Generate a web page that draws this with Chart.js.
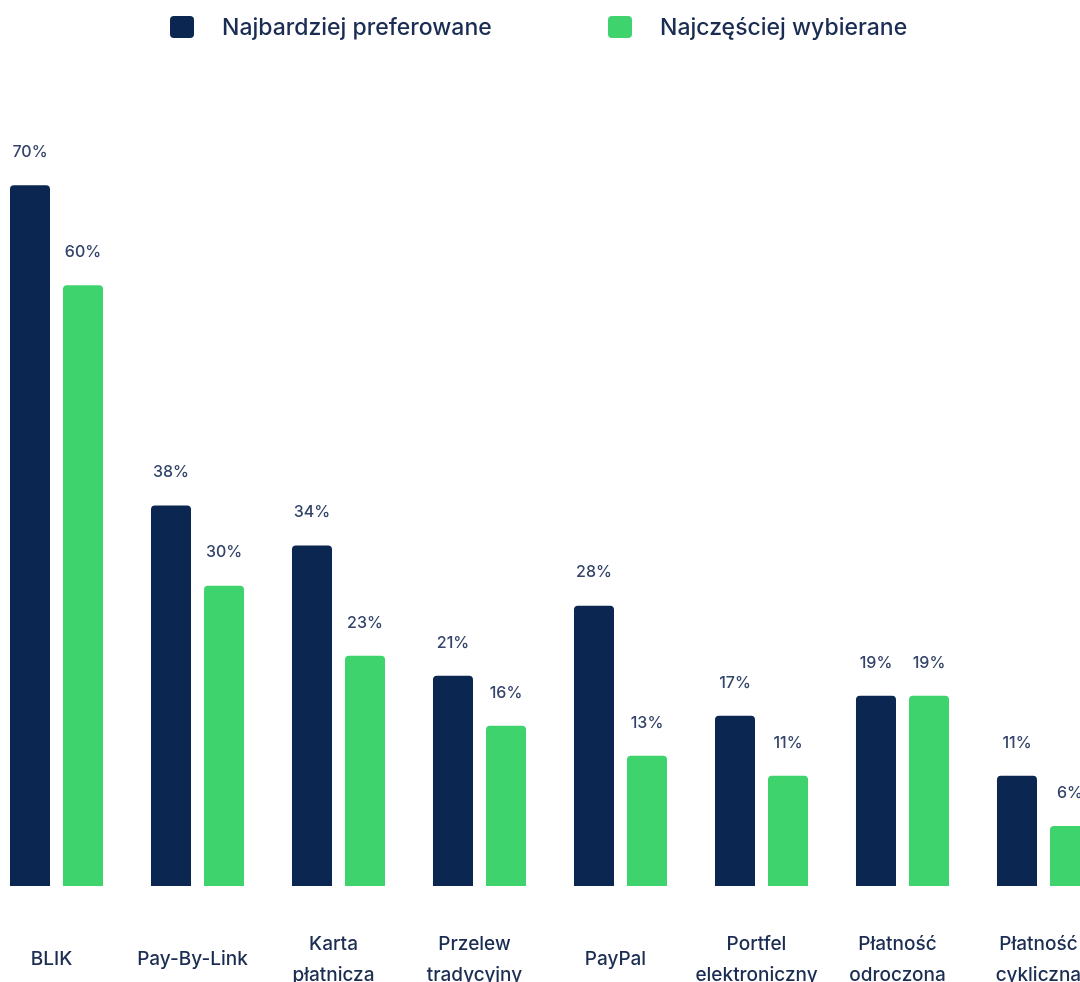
<!DOCTYPE html>
<html lang="pl">
<head>
<meta charset="utf-8">
<title>Metody płatności</title>
<script src="https://cdn.jsdelivr.net/npm/chart.js@4/dist/chart.umd.min.js"></script>
<style>
  html, body { margin: 0; padding: 0; background: #ffffff; width: 1080px; height: 982px; overflow: hidden; }
  #wrap { position: relative; width: 1080px; height: 982px; overflow: hidden; }
  #c { position: absolute; left: -14px; top: 0; }
  .lg { position: absolute; top: 0; height: 54px; display: flex; align-items: center; font-family: Inter, "Noto Sans", sans-serif; font-weight: 500; font-size: 23px; color: #1b2d52; white-space: nowrap; }
  .lg span.box { display: inline-block; width: 24px; height: 22px; border-radius: 4px; margin-right: 28px; }
</style>
</head>
<body>
<div id="wrap">
  <canvas id="c" width="1128" height="982"></canvas>
  <div class="lg" style="left:170px;"><span class="box" style="background:#0b2650"></span><span id="l1"></span></div>
  <div class="lg" style="left:608px;"><span class="box" style="background:#3fd36e"></span><span id="l2"></span></div>
</div>
<script>
const categories = [
  "BLIK",
  "Pay-By-Link",
  ["Karta", "płatnicza"],
  ["Przelew", "tradycyjny"],
  "PayPal",
  ["Portfel", "elektroniczny"],
  ["Płatność", "odroczona"],
  ["Płatność", "cykliczna"]
];
const seriesNames = ["Najbardziej preferowane", "Najczęściej wybierane"];
const preferowane = [70, 38, 34, 21, 28, 17, 19, 11];
const wybierane = [60, 30, 23, 16, 13, 11, 19, 6];
const colors = ["#0b2650", "#3fd36e"];

document.getElementById('l1').textContent = seriesNames[0];
document.getElementById('l2').textContent = seriesNames[1];

const valueLabels = {
  id: 'valueLabels',
  afterDatasetsDraw(chart) {
    const ctx = chart.ctx;
    ctx.save();
    ctx.font = '500 16px Inter, "Noto Sans", sans-serif';
    ctx.fillStyle = '#34446a';
    ctx.textAlign = 'center';
    ctx.textBaseline = 'middle';
    chart.data.datasets.forEach((ds, i) => {
      const meta = chart.getDatasetMeta(i);
      meta.data.forEach((bar, j) => {
        ctx.fillText(ds.data[j] + '%', bar.x, bar.y - 33);
      });
    });
    ctx.restore();
  }
};

new Chart(document.getElementById('c'), {
  type: 'bar',
  data: {
    labels: categories,
    datasets: [
      { label: seriesNames[0], data: preferowane, backgroundColor: colors[0], borderRadius: 4 },
      { label: seriesNames[1], data: wybierane, backgroundColor: colors[1], borderRadius: 4 }
    ]
  },
  options: {
    responsive: false,
    animation: false,
    devicePixelRatio: 1,
    layout: { padding: { top: 85, left: 0, right: 0, bottom: 0 } },
    datasets: { bar: { categoryPercentage: 0.752, barPercentage: 0.755 } },
    plugins: { legend: { display: false }, tooltip: { enabled: false } },
    scales: {
      y: { display: false, min: 0, max: 80 },
      x: {
        grid: { display: false, drawTicks: false },
        border: { display: false },
        afterFit(scale) { scale.height = 96; scale.paddingLeft = 0; scale.paddingRight = 0; },
        ticks: {
          padding: 58,
          labelOffset: -5,
          maxRotation: 0,
          minRotation: 0,
          autoSkip: false,
          crossAlign: 'center',
          color: '#1b2d52',
          font: { family: 'Inter, "Noto Sans", sans-serif', size: 19, weight: '500', lineHeight: '31px' }
        }
      }
    }
  },
  plugins: [valueLabels]
});
</script>
</body>
</html>
